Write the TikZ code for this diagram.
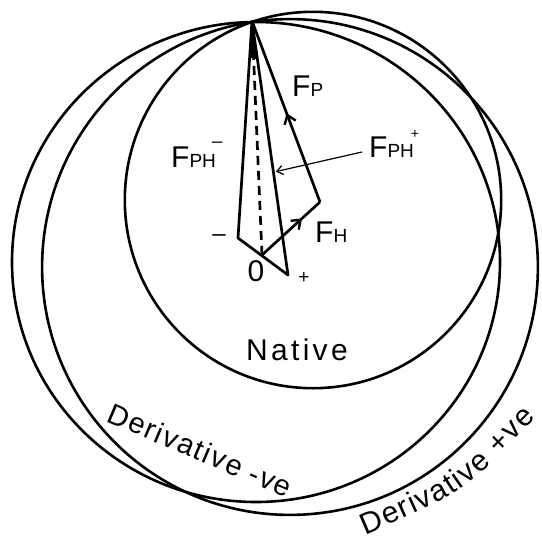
\documentclass[tikz,border=0pt]{standalone}
\usepackage{fontspec}
\setmainfont{Liberation Sans}
\newfontfamily\letterfont{Liberation Sans}
\newfontfamily\widefont[LetterSpace=6]{Liberation Sans}
\newfontfamily\nativefont[LetterSpace=11]{Liberation Sans}
\usetikzlibrary{arrows.meta,calc,decorations.markings,decorations.text}
\newcommand{\sml}[1]{{\fontsize{19}{19}\selectfont #1}}

\begin{document}
\begin{tikzpicture}[
  x=1pt,y=-1pt,
  every node/.style={font=\letterfont\fontsize{30}{30}\selectfont,inner sep=0pt},
  ring/.style={line width=2.6pt},
  vec/.style={line width=2.7pt,line join=round},
  midarrow/.style={postaction={decorate},decoration={markings,
      mark=at position #1 with {\arrow{Straight Barb[length=8pt,width=12pt,line width=2.4pt]}}}},
  pointer/.style={line width=1.2pt,-{Straight Barb[length=6pt,width=9pt]},shorten >=2.5pt},
  curvedlabel/.style={decorate,decoration={text along path,text align={fit to path},
      text={|\letterfont\fontsize{30}{30}\selectfont|#1}}},
]
  \useasboundingbox (0,0) rectangle (542,542);

  % Circles
  \draw[ring] (313,200) circle[radius=188.2pt];
  \draw[ring] (256,262) ellipse[x radius=244pt,y radius=240pt];
  \draw[ring] (290,267) circle[radius=247.9pt];

  % Vector points
  \coordinate (P) at (252,21);
  \coordinate (M) at (238,238);
  \coordinate (O) at (262,255);
  \coordinate (Q) at (288,275);
  \coordinate (A) at (320,202);
  \coordinate (tip) at ($(P)!0.595!(Q)$);

  % Vectors
  \fill ($(P)!0.17!(M)$) -- (P) -- ($(P)!0.15!(Q)$) -- cycle;
  \draw[vec] (P) -- (M) -- (Q) -- cycle;
  \draw[vec,dash pattern=on 9pt off 6pt] (P) -- (O);
  \draw[vec,midarrow=0.69] (O) -- (A);
  \draw[vec,midarrow=0.49] (A) -- (P);

  % Labels
  \node[anchor=base west] (fp) at (292,96) {F\sml{P}};
  \node[anchor=base west] (fphm) at (171,167)
    {F\sml{PH}\kern-4pt\raisebox{20pt}{\sml{–}}};
  \node[anchor=base west] (fphp) at (369,157)
    {F\sml{PH}\kern-3pt\raisebox{19pt}{\fontsize{14}{14}\selectfont +}};
  \node[anchor=base west] (fh) at (315,242) {F\sml{H}};
  \node (zero) at (256,271) {0};
  \node (minus) at (219,238) {\fontsize{24}{24}\selectfont –};
  \node (plus) at (304,278) {\sml{+}};
  \node[font=\nativefont\fontsize{30}{30}\selectfont] (native) at (297,350) {Native};
  \node[anchor=base west,rotate=-23,font=\widefont\fontsize{29}{29}\selectfont] (dneg)
    at (105,421) {Derivative\hspace{9pt}-ve};
  \path[curvedlabel={Derivative  +ve}] (365,535) .. controls (463,493) .. (536,418);

  \draw[pointer] ([xshift=-7pt,yshift=5pt]fphp.base west) -- (tip);
\end{tikzpicture}
\end{document}
